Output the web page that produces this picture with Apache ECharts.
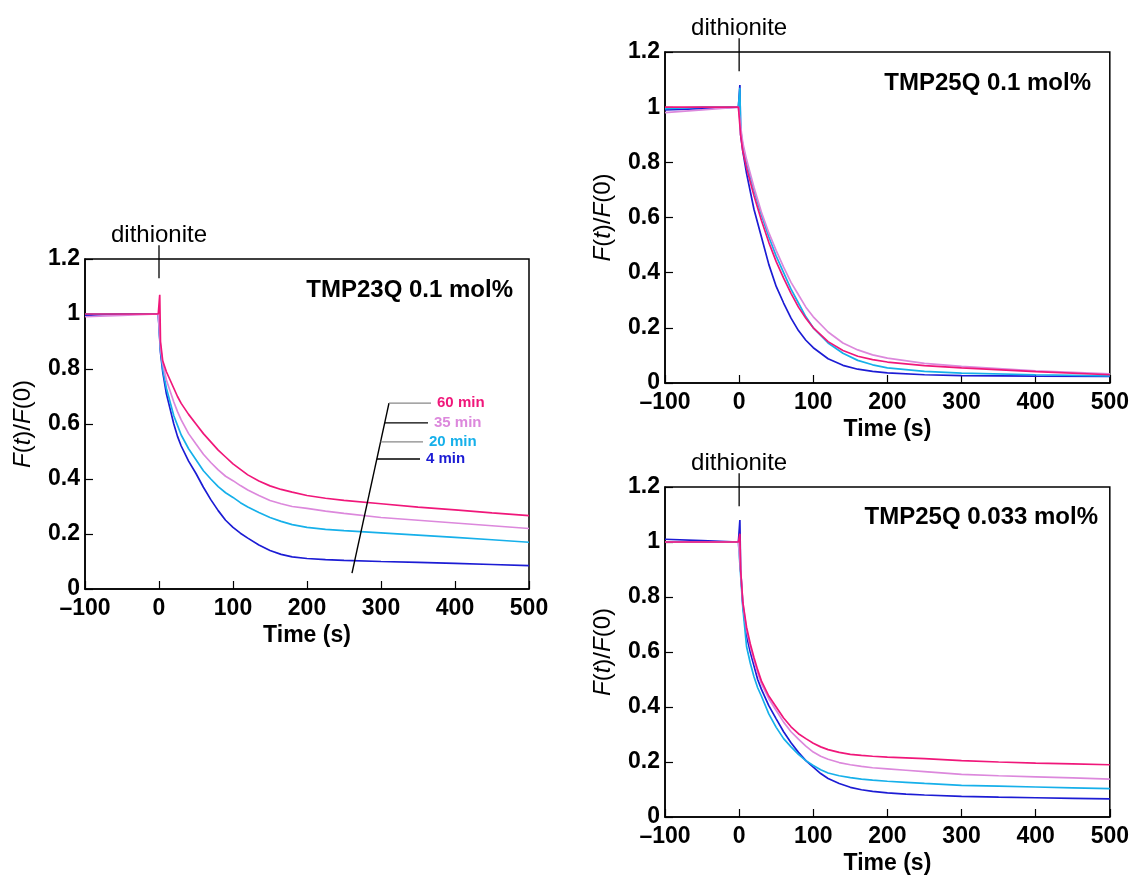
<!DOCTYPE html>
<html>
<head>
<meta charset="utf-8">
<title>Dithionite quenching kinetics</title>
<script src="https://cdn.jsdelivr.net/npm/echarts@6/dist/echarts.min.js"></script>
<style>
  html, body { margin: 0; padding: 0; background: #fff; }
  #chart { width: 1132px; height: 877px; }
</style>
</head>
<body>
<div id="chart"></div>
<script>
// ---- Data: normalized fluorescence F(t)/F(0) versus time (s) ----
const xTicks = [-100, 0, 100, 200, 300, 400, 500];
const yTicks = [0, 0.2, 0.4, 0.6, 0.8, 1, 1.2];

const seriesNames = ['4 min', '20 min', '35 min', '60 min'];
const seriesColors = ['#1c1cd4', '#16b0ea', '#dc88dc', '#f0177a'];

// Panel A: TMP23Q 0.1 mol%
const timeA = [-100, -50, -1, 0, 1, 2, 5, 10, 15, 20, 25, 30, 40, 50, 60, 70, 80, 90, 100, 110, 120, 135, 150, 165, 180, 200, 225, 250, 300, 350, 400, 450, 500];
const a4min  = [0.995, 1.0, 1.0, 1.0, 1.0, 0.86, 0.79, 0.71, 0.655, 0.60, 0.555, 0.52, 0.465, 0.42, 0.37, 0.325, 0.285, 0.25, 0.224, 0.203, 0.185, 0.16, 0.14, 0.126, 0.117, 0.111, 0.107, 0.104, 0.10, 0.097, 0.093, 0.089, 0.085];
const a20min = [1.0, 1.0, 1.0, 1.0, 1.0, 0.87, 0.80, 0.73, 0.68, 0.63, 0.595, 0.56, 0.51, 0.47, 0.43, 0.40, 0.372, 0.35, 0.333, 0.314, 0.298, 0.278, 0.26, 0.246, 0.234, 0.224, 0.217, 0.212, 0.204, 0.196, 0.188, 0.179, 0.17];
const a35min = [0.99, 0.995, 1.0, 1.0, 1.0, 0.88, 0.82, 0.76, 0.72, 0.68, 0.645, 0.615, 0.565, 0.527, 0.49, 0.46, 0.433, 0.41, 0.394, 0.376, 0.36, 0.34, 0.322, 0.31, 0.30, 0.293, 0.283, 0.275, 0.26, 0.25, 0.24, 0.23, 0.22];
const a60min = [1.0, 1.0, 1.0, 1.0, 1.07, 0.90, 0.83, 0.79, 0.76, 0.73, 0.70, 0.675, 0.635, 0.60, 0.565, 0.535, 0.505, 0.48, 0.455, 0.435, 0.415, 0.393, 0.375, 0.362, 0.352, 0.34, 0.33, 0.322, 0.31, 0.298, 0.288, 0.277, 0.267];

// Panel B: TMP25Q 0.1 mol%
const timeB = [-100, -50, -1, 0, 1, 2, 5, 10, 20, 30, 40, 50, 60, 70, 80, 90, 100, 120, 140, 160, 180, 200, 250, 300, 400, 500];
const b4min  = [0.99, 0.995, 1.0, 1.0, 1.08, 0.90, 0.84, 0.76, 0.63, 0.53, 0.43, 0.35, 0.29, 0.235, 0.19, 0.155, 0.128, 0.088, 0.064, 0.05, 0.042, 0.037, 0.03, 0.027, 0.025, 0.024];
const b20min = [0.995, 1.0, 1.0, 1.0, 1.07, 0.92, 0.86, 0.80, 0.70, 0.61, 0.53, 0.46, 0.40, 0.34, 0.29, 0.24, 0.20, 0.145, 0.108, 0.082, 0.066, 0.055, 0.042, 0.036, 0.03, 0.026];
const b35min = [0.98, 0.99, 1.0, 1.0, 1.0, 0.93, 0.87, 0.81, 0.71, 0.62, 0.545, 0.48, 0.42, 0.365, 0.32, 0.275, 0.24, 0.185, 0.145, 0.12, 0.102, 0.09, 0.071, 0.06, 0.044, 0.033];
const b60min = [1.0, 1.0, 1.0, 1.0, 1.0, 0.90, 0.84, 0.78, 0.68, 0.59, 0.51, 0.44, 0.38, 0.325, 0.275, 0.235, 0.20, 0.15, 0.118, 0.097, 0.085, 0.076, 0.063, 0.055, 0.041, 0.03];

// Panel C: TMP25Q 0.033 mol%
const timeC = [-100, -50, -1, 0, 1, 2, 5, 10, 15, 20, 25, 30, 40, 50, 60, 70, 80, 90, 100, 110, 120, 135, 150, 165, 180, 200, 225, 250, 300, 350, 400, 450, 500];
const c4min  = [1.01, 1.005, 1.0, 1.0, 1.08, 0.90, 0.77, 0.66, 0.60, 0.55, 0.50, 0.465, 0.405, 0.357, 0.31, 0.27, 0.235, 0.205, 0.181, 0.158, 0.14, 0.122, 0.108, 0.099, 0.093, 0.088, 0.083, 0.08, 0.075, 0.072, 0.07, 0.068, 0.066];
const c20min = [1.0, 1.0, 1.0, 1.0, 1.0, 0.88, 0.76, 0.62, 0.56, 0.51, 0.47, 0.44, 0.375, 0.326, 0.285, 0.255, 0.228, 0.205, 0.187, 0.172, 0.16, 0.15, 0.143, 0.138, 0.134, 0.13, 0.126, 0.122, 0.115, 0.112, 0.109, 0.106, 0.103];
const c35min = [1.0, 1.0, 1.0, 1.0, 1.0, 0.90, 0.78, 0.68, 0.62, 0.57, 0.525, 0.485, 0.43, 0.387, 0.345, 0.31, 0.283, 0.258, 0.236, 0.221, 0.21, 0.198, 0.19, 0.184, 0.179, 0.175, 0.17, 0.165, 0.155, 0.15, 0.146, 0.142, 0.138];
const c60min = [1.0, 1.0, 1.0, 1.0, 1.03, 0.90, 0.78, 0.69, 0.63, 0.58, 0.535, 0.495, 0.44, 0.40, 0.36, 0.328, 0.303, 0.285, 0.268, 0.255, 0.245, 0.235, 0.228, 0.224, 0.221, 0.218, 0.215, 0.212, 0.205, 0.20, 0.196, 0.193, 0.19];

const panelTitles = ['TMP23Q 0.1 mol%', 'TMP25Q 0.1 mol%', 'TMP25Q 0.033 mol%'];
const markerText = 'dithionite';
const xTitle = 'Time (s)';

// ---- Chart construction ----
const panels = [
  { time: timeA, values: [a4min, a20min, a35min, a60min] },
  { time: timeB, values: [b4min, b20min, b35min, b60min] },
  { time: timeC, values: [c4min, c20min, c35min, c60min] }
];

const FONT = 'Liberation Sans, Arial, sans-serif';
const gridBoxes = [
  { left: 85, top: 259, width: 444, height: 330 },
  { left: 665, top: 52, width: 445, height: 331 },
  { left: 665, top: 487, width: 445, height: 330 }
];
const titlePos = [
  { right: 619, top: 278 },
  { right: 41, top: 71 },
  { right: 34, top: 505 }
];

const zip = (xs, ys) => xs.map((x, i) => [x, ys[i]]);

const grid = gridBoxes.map(b => Object.assign({
  show: true, borderColor: '#000', borderWidth: 1.5, backgroundColor: 'transparent'
}, b));

const xAxis = gridBoxes.map((_, i) => ({
  type: 'value', gridIndex: i,
  min: xTicks[0], max: xTicks[xTicks.length - 1], interval: xTicks[1] - xTicks[0],
  axisLine: { show: true, onZero: false, lineStyle: { color: '#000', width: 1.5 } },
  axisTick: { show: true, inside: true, length: 8, lineStyle: { color: '#000', width: 1.2 } },
  splitLine: { show: false },
  axisLabel: {
    color: '#000', fontFamily: FONT, fontSize: 23, fontWeight: 'bold', margin: 8,
    formatter: v => (v < 0 ? '\u2013' + Math.abs(v) : String(v))
  },
  name: xTitle, nameLocation: 'middle', nameGap: 35,
  nameTextStyle: { color: '#000', fontFamily: FONT, fontSize: 23, fontWeight: 'bold' }
}));

const yAxis = gridBoxes.map((_, i) => ({
  type: 'value', gridIndex: i,
  min: yTicks[0], max: yTicks[yTicks.length - 1], interval: yTicks[1] - yTicks[0],
  axisLine: { show: true, onZero: false, lineStyle: { color: '#000', width: 1.5 } },
  axisTick: { show: true, inside: true, length: 8, lineStyle: { color: '#000', width: 1.2 } },
  splitLine: { show: false },
  axisLabel: {
    color: '#000', fontFamily: FONT, fontSize: 23, fontWeight: 'bold', margin: 5,
    formatter: v => String(Math.round(v * 10) / 10)
  },
  name: '{i|F}{n|(}{i|t}{n|)/}{i|F}{n|(0)}',
  nameLocation: 'middle', nameRotate: 90, nameGap: 50,
  nameTextStyle: {
    color: '#000', fontFamily: FONT, fontSize: 24,
    rich: {
      i: { fontStyle: 'italic', fontFamily: FONT, fontSize: 24, color: '#000' },
      n: { fontFamily: FONT, fontSize: 24, color: '#000' }
    }
  }
}));

const series = [];
panels.forEach((p, gi) => {
  p.values.forEach((vals, si) => {
    series.push({
      type: 'line', name: seriesNames[si] + ' ' + gi,
      xAxisIndex: gi, yAxisIndex: gi,
      data: zip(p.time, vals),
      showSymbol: false, symbol: 'none',
      lineStyle: { color: seriesColors[si], width: 1.7 },
      z: 3 + si, silent: true
    });
  });

  // dithionite addition marker at t = 0, rising above the frame
  series.push({
    type: 'line', xAxisIndex: gi, yAxisIndex: gi, clip: false, silent: true,
    data: [[0, 1.13], [0, 1.25]], symbol: 'none',
    lineStyle: { color: '#000', width: 1.3 }, z: 10
  });
  series.push({
    type: 'scatter', xAxisIndex: gi, yAxisIndex: gi, clip: false, silent: true,
    data: [[0, 1.25]], symbol: 'circle', symbolSize: 0.1, itemStyle: { color: '#ffffff' },
    label: {
      show: true, position: 'top', distance: -2, formatter: markerText,
      color: '#000000', fontFamily: FONT, fontSize: 24, opacity: 1
    },
    emphasis: { disabled: true },
    z: 10
  });
});

// Leader lines for the incubation-time labels in panel A
const leaderColors = ['#000', '#888', '#000', '#888']; // 4, 20, 35, 60 min
const leaderRows = [
  { y: 0.473, x0: 294.4, x1: 352.7 },
  { y: 0.535, x0: 299.4, x1: 356.8 },
  { y: 0.604, x0: 305.0, x1: 363.5 },
  { y: 0.676, x0: 310.8, x1: 367.6 }
];
series.push({
  type: 'line', xAxisIndex: 0, yAxisIndex: 0, silent: true, symbol: 'none',
  data: [[260.8, 0.058], [310.8, 0.676]],
  lineStyle: { color: '#000', width: 1.4 }, z: 12
});
leaderRows.forEach((r, si) => {
  series.push({
    type: 'line', xAxisIndex: 0, yAxisIndex: 0, silent: true, symbol: 'none',
    data: [[r.x0, r.y], [r.x1, r.y]],
    lineStyle: { color: leaderColors[si], width: 1.4 }, z: 12,
    endLabel: {
      show: true, formatter: seriesNames[si], distance: 6,
      color: seriesColors[si], fontFamily: FONT, fontSize: 15, fontWeight: 'bold'
    }
  });
});

const title = panelTitles.map((t, i) => Object.assign({
  text: t, padding: 0,
  textStyle: { color: '#000', fontFamily: FONT, fontSize: 24, fontWeight: 'bold' }
}, titlePos[i]));

const chart = echarts.init(document.getElementById('chart'), null, { renderer: 'canvas' });
chart.setOption({
  backgroundColor: '#fff',
  animation: false,
  title,
  grid,
  xAxis,
  yAxis,
  series
});
</script>
</body>
</html>
